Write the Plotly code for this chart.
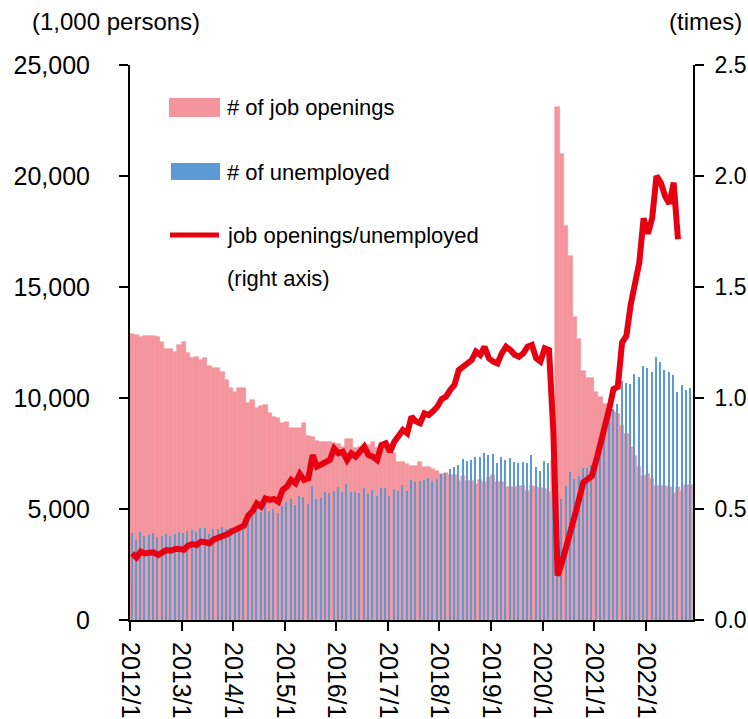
import plotly.graph_objects as go

# ---- data (monthly, 2012/1 .. 2022/11) ----
# pink series (labelled "# of job openings" in the legend), 1,000 persons
job_openings = [
    12880, 12840, 12770, 12790, 12790, 12780, 12730, 12540, 12200, 12190, 12090, 12390,
    12540, 12020, 11790, 11830, 11720, 11790, 11420, 11370, 11340, 11190, 10820, 10440,
    10290, 10440, 10440, 9770, 9910, 9540, 9650, 9680, 9340, 9160, 9115, 8860,
    8935, 8635, 8635, 8635, 8890, 8290, 8230, 8080, 8035, 8035, 8035, 7990,
    7915, 7810, 8140, 8140, 7750, 7810, 7690, 7885, 8005, 7735, 7735, 7735,
    7660, 7510, 7135, 7135, 7030, 6955, 6955, 7135, 6910, 6910, 6800, 6710,
    6580, 6640, 6530, 6530, 6280, 6500, 6250, 6250, 6130, 6310, 6200, 6460,
    6520, 6200, 6230, 5980, 5980, 6010, 6050, 6050, 5830, 6040, 6010, 5930,
    5890, 5780, 7190, 23120, 21000, 17750, 16400, 13650, 12650, 11200, 10880, 10880,
    10250, 10050, 9750, 9650, 9350, 9300, 8730, 8380, 7800, 7400, 6880, 6500,
    6580, 6330, 6050, 6040, 6040, 6010, 5740, 5970, 5800, 6100, 6080,
]
# blue series (labelled "# of unemployed" in the legend), 1,000 persons
unemployed = [
    3900, 3600, 3960, 3780, 3830, 3900, 3720, 3780, 3870, 3780, 3870, 3960,
    3900, 4010, 4050, 3960, 4130, 4150, 3870, 4080, 4100, 4200, 4080, 4150,
    4200, 4280, 4410, 4730, 4950, 5030, 4880, 5250, 4930, 5000, 4840, 5140,
    5330, 5440, 5180, 5590, 5560, 5230, 6040, 5440, 5480, 5770, 5710, 5830,
    6010, 5750, 6110, 5780, 5750, 5720, 5930, 5660, 5860, 5590, 5950, 5950,
    5600, 5900, 5800, 6080, 5810, 6290, 6230, 6250, 6310, 6400, 6260, 6340,
    6560, 6610, 6800, 6910, 6980, 7240, 7180, 7210, 7340, 7360, 7540, 7430,
    7480, 7060, 7330, 7210, 7280, 7130, 7060, 7120, 7090, 7420, 6880, 6730,
    7160, 7050, 6200, 4700, 5450, 6050, 6650, 6350, 6500, 6850, 6850, 7000,
    7400, 7900, 8400, 9200, 9500, 9750, 10770, 10660, 10630, 11080, 10960, 11440,
    11340, 11190, 11830, 11640, 11260, 11190, 11040, 10290, 10590, 10360, 10450,
]
# job openings / unemployed (right axis, times), 2012/1 .. 2022/8
ratio = [
    0.300, 0.282, 0.308, 0.300, 0.303, 0.305, 0.293, 0.302, 0.315, 0.312, 0.320, 0.320,
    0.316, 0.335, 0.342, 0.338, 0.353, 0.350, 0.345, 0.363, 0.368, 0.376, 0.385, 0.397,
    0.408, 0.415, 0.425, 0.470, 0.490, 0.525, 0.511, 0.548, 0.541, 0.545, 0.533, 0.586,
    0.601, 0.631, 0.616, 0.658, 0.631, 0.638, 0.743, 0.691, 0.700, 0.713, 0.721, 0.773,
    0.751, 0.758, 0.721, 0.751, 0.736, 0.758, 0.781, 0.743, 0.736, 0.721, 0.788, 0.796,
    0.758, 0.803, 0.835, 0.856, 0.841, 0.916, 0.895, 0.886, 0.931, 0.923, 0.940, 0.961,
    0.995, 1.006, 1.036, 1.059, 1.126, 1.141, 1.164, 1.171, 1.209, 1.194, 1.231, 1.179,
    1.164, 1.156, 1.201, 1.231, 1.216, 1.195, 1.186, 1.201, 1.231, 1.239, 1.179, 1.164,
    1.224, 1.216, 0.850, 0.200, 0.260, 0.340, 0.400, 0.470, 0.550, 0.620, 0.635, 0.650,
    0.720, 0.790, 0.870, 0.950, 1.040, 1.050, 1.250, 1.280, 1.420, 1.530, 1.610, 1.810,
    1.740, 1.810, 2.000, 1.970, 1.910, 1.875, 1.970, 1.715,
]
tick_labels = ["2012/1", "2013/1", "2014/1", "2015/1", "2016/1", "2017/1",
               "2018/1", "2019/1", "2020/1", "2021/1", "2022/1"]
left_ticks = [0, 5000, 10000, 15000, 20000, 25000]
right_ticks = [0.0, 0.5, 1.0, 1.5, 2.0, 2.5]

PINK = "#F4959D"
BLUE = "#5B9BD5"
RED = "#E60012"
FONT = "Liberation Sans, Arial, sans-serif"

n = len(job_openings)
x_pink = [i + 0.5 for i in range(n)]
x_blue = [i + 0.4 for i in range(len(unemployed))]
x_line = [i + 0.5 for i in range(len(ratio))]
tick_pos = [12 * k for k in range(len(tick_labels))]

W, H = 748, 719
ML, MT = 130, 65
MR = W - 693
MB = H - 620
PW, PH = W - ML - MR, H - MT - MB


def px(x):
    """page pixel x -> paper coordinate"""
    return (x - ML) / PW


def py(y):
    """page pixel y -> paper coordinate"""
    return (H - MB - y) / PH


fig = go.Figure()
fig.add_trace(go.Bar(
    x=x_pink, y=job_openings, width=1.0, name="# of job openings",
    marker=dict(color=PINK, line=dict(color=PINK, width=0.6)), yaxis="y"))
fig.add_trace(go.Bar(
    x=x_blue, y=unemployed, width=0.3, name="# of unemployed",
    marker=dict(color=BLUE, line=dict(width=0)), yaxis="y"))
fig.add_trace(go.Scatter(
    x=x_line, y=ratio, mode="lines", name="job openings/unemployed",
    line=dict(color=RED, width=6), yaxis="y2"))

axis_common = dict(showgrid=False, zeroline=False, showline=True, linecolor="black",
                   linewidth=2, ticks="outside", ticklen=9, tickwidth=2, tickcolor="black",
                   automargin=False)

fig.update_layout(
    width=W, height=H, margin=dict(l=ML, r=MR, t=MT, b=MB, autoexpand=False),
    paper_bgcolor="white", plot_bgcolor="white", showlegend=False,
    barmode="overlay", bargap=0, bargroupgap=0,
    font=dict(family=FONT, color="black"),
    xaxis=dict(range=[0, n], tickmode="array", tickvals=tick_pos, ticktext=tick_labels,
               tickangle=90, ticklabelstandoff=6,
               tickfont=dict(family=FONT, size=25, color="black"), **axis_common),
    yaxis=dict(range=[0, 25000], tickmode="array", tickvals=left_ticks,
               ticktext=[f"{v:,}" for v in left_ticks], ticklabelstandoff=24,
               tickfont=dict(family=FONT, size=25, color="black"), **axis_common),
    yaxis2=dict(range=[0, 2.5], tickmode="array", tickvals=right_ticks,
                ticktext=[f"{v:.1f}" for v in right_ticks], overlaying="y", side="right",
                anchor="x", ticklabelstandoff=6,
                tickfont=dict(family=FONT, size=23, color="black"), **axis_common),
)

# axis unit labels
fig.add_annotation(text="(1,000 persons)", x=px(116), y=py(22), xref="paper", yref="paper",
                   showarrow=False, font=dict(size=24, family=FONT), xanchor="center", yanchor="middle")
fig.add_annotation(text="(times)", x=px(744), y=py(22), xref="paper", yref="paper",
                   showarrow=False, font=dict(size=24, family=FONT), xanchor="right", yanchor="middle")

# legend (drawn manually to match the wide swatches)
fig.add_shape(type="rect", xref="paper", yref="paper", x0=px(169), x1=px(220), y0=py(117), y1=py(98),
              fillcolor=PINK, line=dict(width=0))
fig.add_shape(type="rect", xref="paper", yref="paper", x0=px(171), x1=px(220), y0=py(180), y1=py(163),
              fillcolor=BLUE, line=dict(width=0))
fig.add_shape(type="line", xref="paper", yref="paper", x0=px(170), x1=px(219), y0=py(235), y1=py(235),
              line=dict(color=RED, width=5))
legend_texts = [("# of job openings", 107), ("# of unemployed", 172),
                ("job openings/unemployed", 236), ("(right axis)", 278)]
for txt, yy in legend_texts:
    fig.add_annotation(text=txt, x=px(225), y=py(yy), xref="paper", yref="paper", showarrow=False,
                       font=dict(size=22, family=FONT), xanchor="left", yanchor="middle")

# remove the browser's default 8px page margin so the figure fills the window exactly
fig.write_html(
    "out.html",
    config={"displayModeBar": False},
    post_script="document.body.style.margin='0px';document.documentElement.style.overflow='hidden';",
)
